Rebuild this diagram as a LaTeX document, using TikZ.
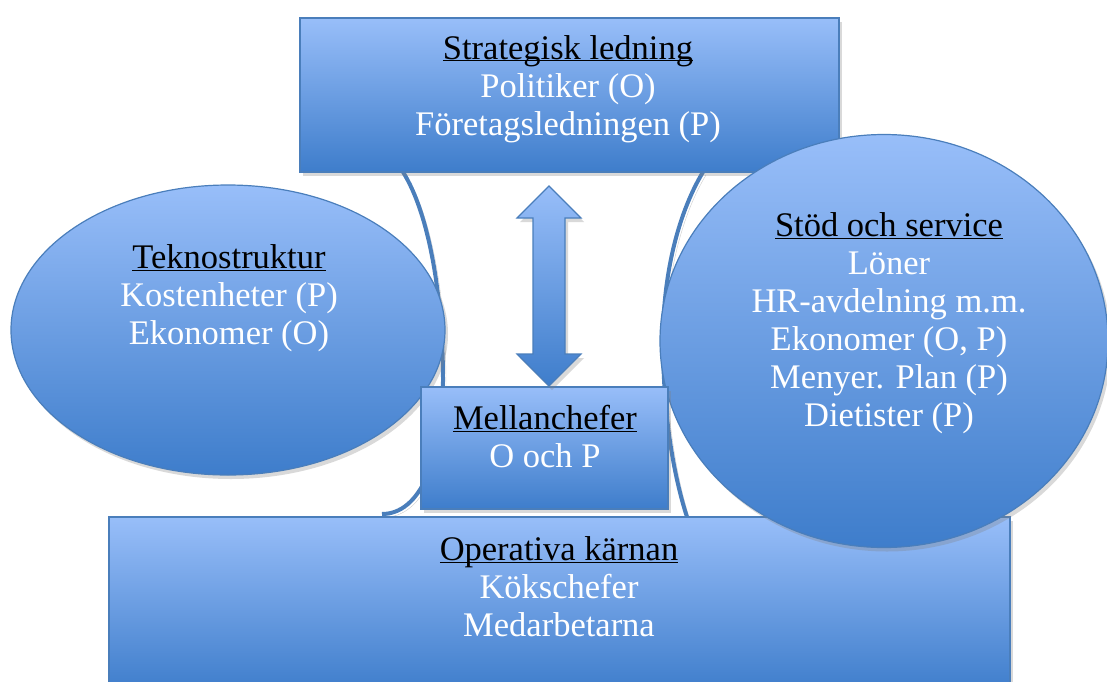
\documentclass[tikz,border=0pt]{standalone}
\usepackage{fontspec}
\setmainfont{Liberation Serif}
\usetikzlibrary{shapes.geometric,shadows}
\definecolor{partlight}{RGB}{152,190,249}
\definecolor{partdark}{RGB}{62,125,203}
\definecolor{partline}{RGB}{74,126,187}
\newcommand{\parttitle}[1]{\textcolor{black}{\underline{\smash{#1}}}}
\tikzset{
	part/.style={draw=partline, line width=1.2pt, top color=partlight, bottom color=partdark,
		inner sep=0pt, drop shadow={opacity=.3, shadow xshift=3pt, shadow yshift=-4pt}},
	parttext/.style={text=white, align=center, font=\fontsize{34.5}{38}\selectfont},
	bracket/.style={draw=partline, line width=4pt,
		preaction={draw=black, opacity=.2, transform canvas={shift={(3pt,-3pt)}}}}
}
\begin{document}
\begin{tikzpicture}[x=1pt,y=-1pt]
	\useasboundingbox (0,0) rectangle (1107,681);
	\draw[bracket] (403,172) .. controls (430,215) and (443,300) .. (443,380) .. controls (443,460) and (420,514) .. (382,514);
	\draw[bracket] (703,172) .. controls (680,210) and (663,270) .. (663,340) .. controls (663,420) and (675,480) .. (687,517);
	\node[part, minimum width=901pt, minimum height=175pt] (karna) at (559.5,604.5) {};
	\node[parttext] (karna-text) at (559,599) {\parttitle{Operativa kärnan}\\Kökschefer\\Medarbetarna};
	\node[part, ellipse, minimum width=434pt, minimum height=290pt] (tekno) at (228,330) {};
	\node[parttext] (tekno-text) at (229,310) {\parttitle{Teknostruktur}\\Kostenheter (P)\\Ekonomer (O)};
	\node[part, minimum width=539pt, minimum height=154pt] (strat) at (569.5,95) {};
	\node[parttext] (strat-text) at (568,101) {\parttitle{Strategisk ledning}\\Politiker (O)\\Företagsledningen (P)};
	\node[part, ellipse, minimum width=448pt, minimum height=413pt] (stod) at (884,341) {};
	\node[parttext] (stod-text) at (889,335) {\parttitle{Stöd och service}\\Löner\\HR-avdelning m.m.\\Ekonomer (O, P)\\Menyer. Plan (P)\\Dietister (P)};
	\node[part, minimum width=247pt, minimum height=122pt] (mellan) at (544.5,448) {};
	\node[parttext] (mellan-text) at (545,449) {\parttitle{Mellanchefer}\\O och P};
	\path[part] (549,186) -- (581,218) -- (565,218) -- (565,354) -- (581,354) -- (549,386)
		-- (517,354) -- (533,354) -- (533,218) -- (517,218) -- cycle;
\end{tikzpicture}
\end{document}
